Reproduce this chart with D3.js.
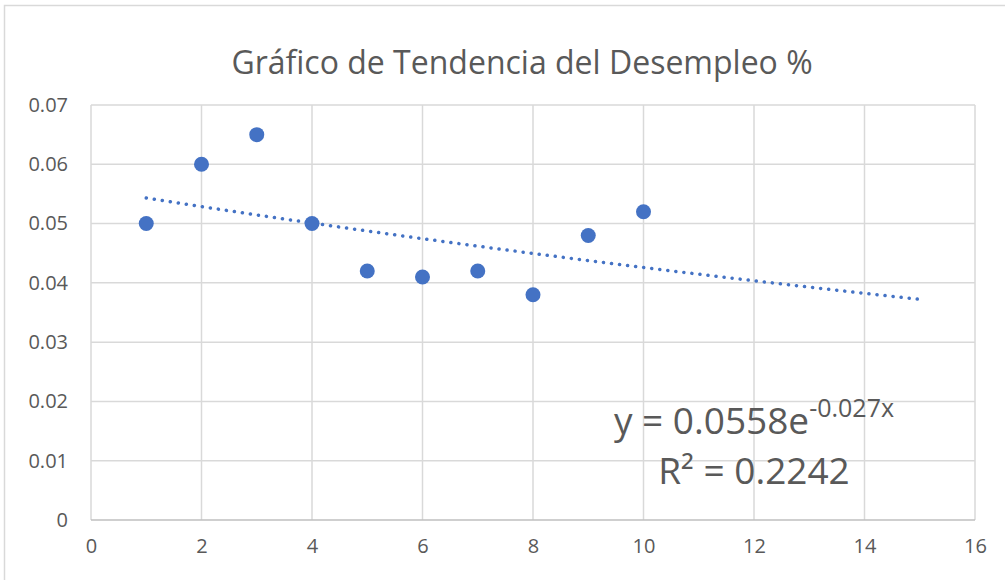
<!DOCTYPE html>
<html>
<head>
<meta charset="utf-8">
<script src="https://cdn.jsdelivr.net/npm/d3@7"></script>
<style>
  html, body { margin: 0; padding: 0; background: #fff; }
  svg { display: block; }
  text { font-family: 'Open Sans', sans-serif; fill: #595959; }
</style>
</head>
<body>
<div id="chart"></div>
<script>
// data
const xValues = [1, 2, 3, 4, 5, 6, 7, 8, 9, 10];
const yValues = [0.05, 0.06, 0.065, 0.05, 0.042, 0.041, 0.042, 0.038, 0.048, 0.052];
const xTicks = [0, 2, 4, 6, 8, 10, 12, 14, 16];
const yTicks = [0, 0.01, 0.02, 0.03, 0.04, 0.05, 0.06, 0.07];
const yTickLabels = ['0', '0.01', '0.02', '0.03', '0.04', '0.05', '0.06', '0.07'];
// trendline y = a * e^(b x), shown from x = 1 to 15
const trendA = 0.0558;
const trendB = -0.027;
const trendRange = [1, 15];
const title = 'Gráfico de Tendencia del Desempleo %';

const width = 1005;
const height = 580;
const margin = { top: 105, right: 30, bottom: 60, left: 91 };

const svg = d3.select('#chart')
  .append('svg')
  .attr('width', width)
  .attr('height', height);

// chart frame
svg.append('rect')
  .attr('x', 4.5)
  .attr('y', 5.5)
  .attr('width', width + 10)
  .attr('height', height + 10)
  .attr('fill', 'none')
  .attr('stroke', '#d9d9d9')
  .attr('stroke-width', 1.5);

const x = d3.scaleLinear().domain([0, 16]).range([margin.left, width - margin.right]);
const y = d3.scaleLinear().domain([0, 0.07]).range([height - margin.bottom, margin.top]);

// grid
const grid = svg.append('g');
grid.selectAll('.vgrid')
  .data(xTicks)
  .enter().append('line')
  .attr('x1', (d) => x(d))
  .attr('x2', (d) => x(d))
  .attr('y1', y(0))
  .attr('y2', y(0.07))
  .attr('stroke', '#d9d9d9')
  .attr('stroke-width', 1.5);
grid.selectAll('.hgrid')
  .data(yTicks)
  .enter().append('line')
  .attr('x1', x(0))
  .attr('x2', x(16))
  .attr('y1', (d) => y(d))
  .attr('y2', (d) => y(d))
  .attr('stroke', (d) => (d === 0 ? '#bfbfbf' : '#d9d9d9'))
  .attr('stroke-width', 1.5);

// axes (labels only)
const xAxis = svg.append('g')
  .attr('transform', `translate(0,${y(0) + 16})`)
  .call(d3.axisBottom(x).tickValues(xTicks).tickSize(0).tickFormat(d3.format('d')));
xAxis.select('.domain').remove();
xAxis.selectAll('text')
  .style('font-size', '20px')
  .style('font-family', "'Open Sans', sans-serif")
  .attr('fill', '#595959');

const yAxis = svg.append('g')
  .attr('transform', `translate(${x(0) - 20},0)`)
  .call(d3.axisLeft(y).tickValues(yTicks).tickSize(0)
    .tickFormat((d, i) => yTickLabels[i]));
yAxis.select('.domain').remove();
yAxis.selectAll('text')
  .style('font-size', '20px')
  .style('font-family', "'Open Sans', sans-serif")
  .attr('fill', '#595959');

// trendline
const trendX = d3.range(trendRange[0], trendRange[1] + 0.001, 0.25);
const line = d3.line()
  .x((d) => x(d))
  .y((d) => y(trendA * Math.exp(trendB * d)));
svg.append('path')
  .datum(trendX)
  .attr('d', line)
  .attr('fill', 'none')
  .attr('stroke', '#4472c4')
  .attr('stroke-width', 3.5)
  .attr('stroke-linecap', 'round')
  .attr('stroke-dasharray', '0.1 8');

// points
svg.append('g')
  .selectAll('circle')
  .data(xValues)
  .enter().append('circle')
  .attr('cx', (d) => x(d))
  .attr('cy', (d, i) => y(yValues[i]))
  .attr('r', 7.5)
  .attr('fill', '#4472c4');

// title
svg.append('text')
  .attr('x', 522)
  .attr('y', 74)
  .attr('text-anchor', 'middle')
  .style('font-size', '32px')
  .text(title);

// equation label
const eq = svg.append('text')
  .attr('x', 754)
  .attr('y', 434)
  .attr('text-anchor', 'middle')
  .style('font-size', '37px');
eq.append('tspan').text(`y = ${trendA}e`);
eq.append('tspan')
  .attr('dy', -17)
  .style('font-size', '25px')
  .text(`${trendB}x`);

svg.append('text')
  .attr('x', 754)
  .attr('y', 484)
  .attr('text-anchor', 'middle')
  .style('font-size', '37px')
  .text('R² = 0.2242');
</script>
</body>
</html>
